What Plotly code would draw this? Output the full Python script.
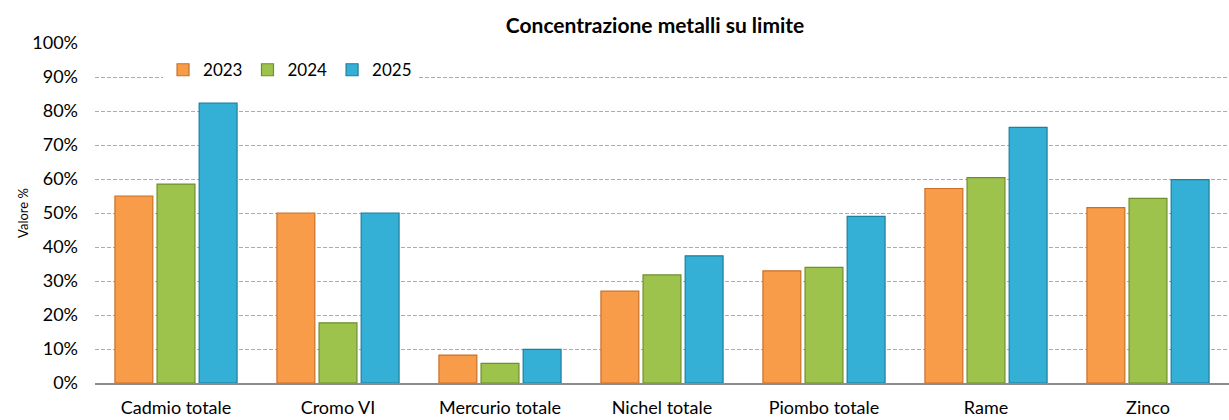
import plotly.graph_objects as go

categories = ["Cadmio totale", "Cromo VI", "Mercurio totale", "Nichel totale",
              "Piombo totale", "Rame", "Zinco"]
v2023 = [55.0, 50.0, 8.2, 27.0, 33.0, 57.2, 51.6]
v2024 = [58.5, 17.7, 5.8, 31.8, 34.0, 60.4, 54.3]
v2025 = [82.3, 50.0, 9.9, 37.4, 49.0, 75.2, 59.8]
years = ["2023", "2024", "2025"]

fills = ["#F99C4A", "#9DC34C", "#34B0D7"]
edges = ["#C8702A", "#6F8E2E", "#1F7E9C"]

FONT = "Lato"

fig = go.Figure()
for name, vals, fc, ec in zip(years, [v2023, v2024, v2025], fills, edges):
    fig.add_trace(go.Bar(
        x=categories, y=[v / 100 for v in vals], name=name,
        marker=dict(color=fc, line=dict(color=ec, width=1.2)),
    ))

fig.update_layout(
    width=1229, height=420,
    margin=dict(l=95, r=0, t=43, b=37),
    paper_bgcolor="white", plot_bgcolor="white",
    barmode="group", bargap=0.22, bargroupgap=0.1,
    font=dict(family=FONT, size=18, color="#000000"),
    title=dict(text="<b>Concentrazione metalli su limite</b>", x=0.533, xanchor="center",
               y=0.94, yanchor="middle", font=dict(family=FONT, size=21, color="#000")),
    legend=dict(orientation="h", x=0.06, xanchor="left", y=0.92, yanchor="middle",
                bgcolor="white", font=dict(family=FONT, size=17),
                itemwidth=30, traceorder="normal"),
    yaxis=dict(range=[0, 1.0], dtick=0.1, tickformat=".0%", showgrid=True,
               gridcolor="#ABABAB", griddash="4px,2px", gridwidth=1, zeroline=False,
               title=dict(text="Valore %", font=dict(family=FONT, size=13), standoff=0),
               tickfont=dict(family=FONT, size=18), ticks="", showline=False,
               ticklabelstandoff=16),
    xaxis=dict(showline=True, linecolor="#8C8C8C", linewidth=1.5, ticks="",
               tickfont=dict(family=FONT, size=18), ticklabelstandoff=8),
)

fig.write_html("out.html")
